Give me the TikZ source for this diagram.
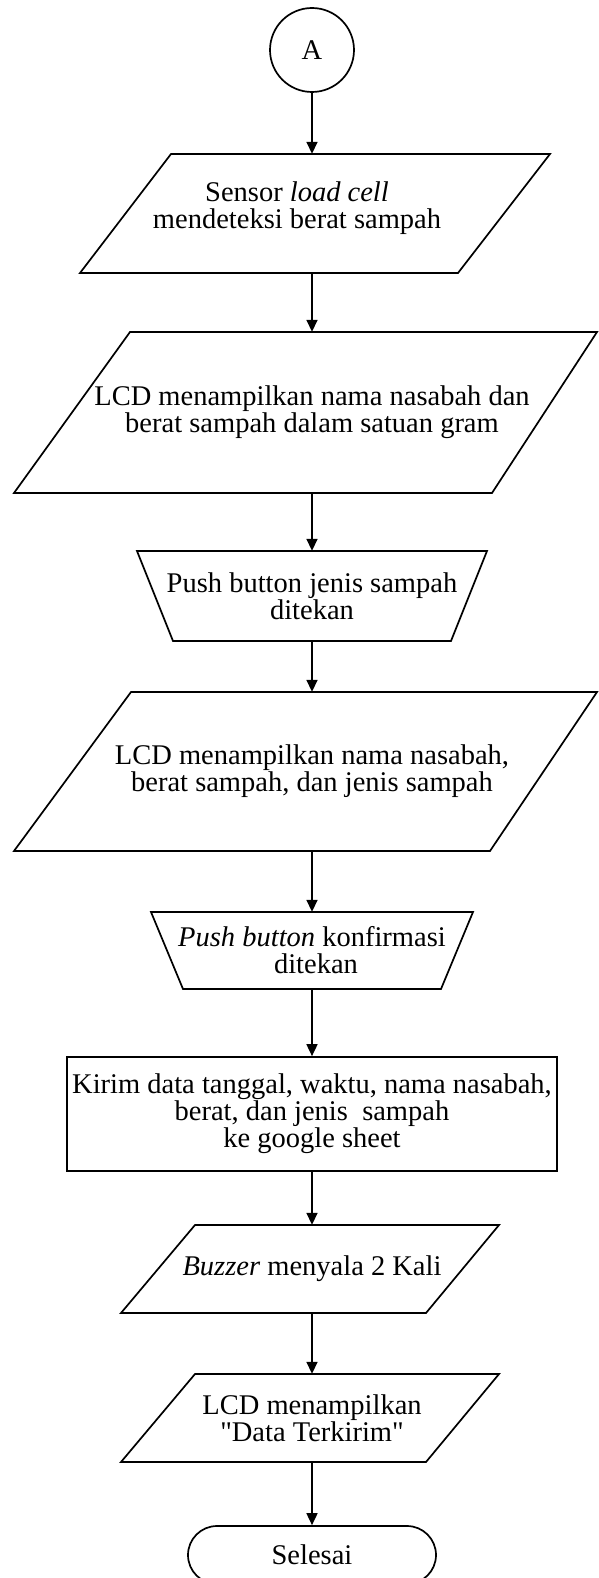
\documentclass[tikz,border=0pt]{standalone}
\usepackage{fontspec}
\setmainfont{Liberation Serif}[Ligatures=TeXOff]
\usetikzlibrary{arrows.meta,shapes.misc}
\newcommand\fsz{\fontsize{28.5}{27}\selectfont}
\begin{document}
\begin{tikzpicture}[x=1pt,y=-1pt,
  shp/.style={draw=black,line width=1.7pt,line join=miter},
  txt/.style={font=\fsz,align=center,inner sep=0pt,minimum height=#1},
  arr/.style={draw=black,line width=1.7pt,-{Triangle[length=12pt,width=11pt]}},
  conn/.style={draw=black,line width=1.7pt,circle,minimum size=84pt,inner sep=0pt,font=\fsz},
  procbox/.style={draw=black,line width=1.7pt,rectangle,minimum width=490pt,minimum height=#1,inner sep=0pt,font=\fsz,align=center},
  term/.style={draw=black,line width=1.7pt,rounded rectangle,minimum width=248pt,minimum height=58pt,inner sep=0pt,font=\fsz}]
\useasboundingbox (0,0) rectangle (598,1578);
\fill[white] (0,0) rectangle (598,1578);

% shapes outlines
\draw[shp] (171,154) -- (550,154) -- (458,273) -- (80,273) -- cycle;
\draw[shp] (130,332) -- (597,332) -- (492,493) -- (14,493) -- cycle;
\draw[shp] (137,551) -- (487,551) -- (451,641) -- (173,641) -- cycle;
\draw[shp] (131,692) -- (597,692) -- (490,851) -- (14,851) -- cycle;
\draw[shp] (151,912) -- (473,912) -- (441,989) -- (183,989) -- cycle;
\draw[shp] (195,1225) -- (499,1225) -- (426,1313) -- (121,1313) -- cycle;
\draw[shp] (195,1374) -- (499,1374) -- (426,1462) -- (121,1462) -- cycle;

% nodes
\node[conn] (a) at (312,50) {A};
\node[txt=119pt] (p1) at (312,213.5) {\hspace*{-30pt}Sensor \textit{load cell}\\\hspace*{-30pt}mendeteksi berat sampah\\[-10pt]};
\node[txt=161pt] (p2) at (312,412.5) {LCD menampilkan nama nasabah dan\\berat sampah dalam satuan gram};
\node[txt=90pt] (t1) at (312,596) {Push button jenis sampah\\ditekan};
\node[txt=159pt] (p3) at (312,771.5) {LCD menampilkan nama nasabah,\\berat sampah, dan jenis sampah};
\node[txt=77pt] (t2) at (312,950.5) {\textit{Push button} konfirmasi\\\hspace*{8pt}ditekan};
\node[procbox=114pt] (r) at (312,1114) {Kirim data tanggal, waktu, nama nasabah,\\berat, dan jenis\ \ sampah\\ke google sheet};
\node[txt=88pt] (p4) at (312,1269) {\textit{Buzzer} menyala 2 Kali};
\node[txt=88pt] (p5) at (312,1418) {LCD menampilkan\\"Data Terkirim"};
\node[term] (s) at (312,1555) {Selesai};

% connectors
\draw[arr] (a.south) -- (p1.north);
\draw[arr] (p1.south) -- (p2.north);
\draw[arr] (p2.south) -- (t1.north);
\draw[arr] (t1.south) -- (p3.north);
\draw[arr] (p3.south) -- (t2.north);
\draw[arr] (t2.south) -- (r.north);
\draw[arr] (r.south) -- (p4.north);
\draw[arr] (p4.south) -- (p5.north);
\draw[arr] (p5.south) -- (s.north);
\end{tikzpicture}
\end{document}
